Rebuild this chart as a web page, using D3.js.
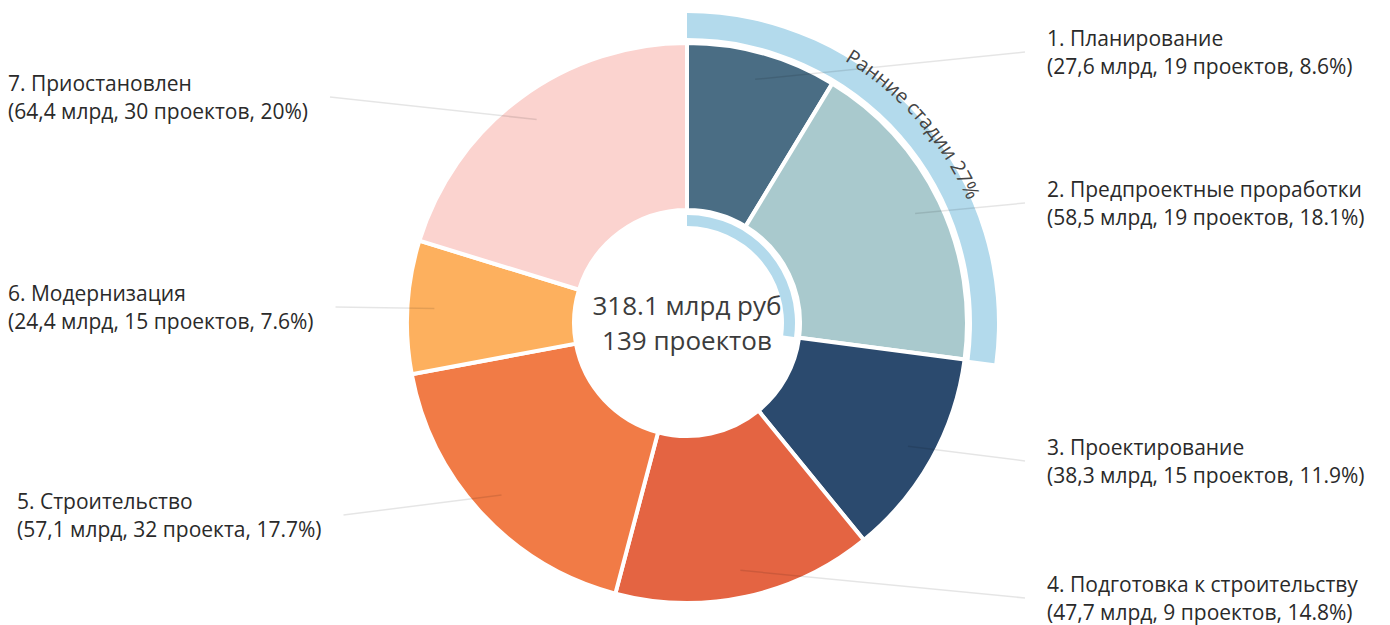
<!DOCTYPE html>
<html>
<head>
<meta charset="utf-8">
<script src="https://cdn.jsdelivr.net/npm/d3@7"></script>
<style>
  body { margin: 0; background: #fff; }
  text { font-family: "Open Sans", "Noto Sans", sans-serif; }
</style>
</head>
<body>
<svg id="chart" width="1390" height="625"></svg>
<script>
// stages of the projects
const stages = [
  "1. Планирование",
  "2. Предпроектные проработки",
  "3. Проектирование",
  "4. Подготовка к строительству",
  "5. Строительство",
  "6. Модернизация",
  "7. Приостановлен"
];
const values = [27.6, 58.5, 38.3, 47.7, 57.1, 24.4, 64.4]; // млрд руб
const valueText = ["27,6", "58,5", "38,3", "47,7", "57,1", "24,4", "64,4"];
const projectText = ["19 проектов", "19 проектов", "15 проектов", "9 проектов", "32 проекта", "15 проектов", "30 проектов"];
const pctText = ["8.6%", "18.1%", "11.9%", "14.8%", "17.7%", "7.6%", "20%"];
const colors = ["#4a6d84", "#a9c9cd", "#2b4a6e", "#e46442", "#f17b46", "#fdb05e", "#fbd3cf"];
const totalText = ["318.1 млрд руб", "139 проектов"];
const groupLabel = "Ранние стадии 27%";
const groupCount = 2; // first two stages form the early group

const cx = 687, cy = 323;
const rInner = 113, rOuter = 280;

// label placement: y of leader end, left edge of text block
const labelY = [52, 203, 461, 598, 515, 307, 97];
const labelX = [1047, 1047, 1047, 1047, 17, 8, 8];
const labelSide = ["r", "r", "r", "r", "l", "l", "l"];

const svg = d3.select("#chart");
const g = svg.append("g").attr("transform", "translate(" + cx + "," + cy + ")");

const pie = d3.pie().sort(null).value((d) => d);
const arcs = pie(values);

const arc = d3.arc().innerRadius(rInner).outerRadius(rOuter);

g.selectAll("path.slice")
  .data(arcs)
  .enter()
  .append("path")
  .attr("class", "slice")
  .attr("d", arc)
  .attr("fill", (d, i) => colors[i])
  .attr("stroke", "#fff")
  .attr("stroke-width", 4);

// early stages bands
const groupEnd = arcs[groupCount - 1].endAngle;
const outerBand = d3.arc().innerRadius(285).outerRadius(310).startAngle(0).endAngle(groupEnd);
const innerBand = d3.arc().innerRadius(97).outerRadius(108).startAngle(0).endAngle(groupEnd);
g.append("path").attr("d", outerBand()).attr("fill", "#b3daec");
g.append("path").attr("d", innerBand()).attr("fill", "#b3daec");

// text along the outer band
const textR = 306;
const textPath = d3.path();
textPath.arc(0, 0, textR, -Math.PI / 2, groupEnd - Math.PI / 2);
g.append("path").attr("id", "bandPath").attr("d", textPath.toString()).attr("fill", "none");
g.append("text")
  .attr("font-size", 20)
  .attr("fill", "#444")
  .append("textPath")
  .attr("href", "#bandPath")
  .attr("startOffset", "50%")
  .attr("text-anchor", "middle")
  .text(groupLabel);

// center text
g.selectAll("text.total")
  .data(totalText)
  .enter()
  .append("text")
  .attr("class", "total")
  .attr("text-anchor", "middle")
  .attr("y", (d, i) => -8 + i * 35)
  .attr("font-size", 26)
  .attr("fill", "#3c3c3c")
  .text((d) => d);

// labels
const labels = svg.append("g");
const lineR = 253;
arcs.forEach((a, i) => {
  const lab = labels.append("g");
  const lines = [stages[i], "(" + valueText[i] + " млрд, " + projectText[i] + ", " + pctText[i] + ")"];
  const t = lab.selectAll("text")
    .data(lines)
    .enter()
    .append("text")
    .attr("x", labelX[i])
    .attr("y", (d, k) => labelY[i] - 6 + k * 28)
    .attr("font-size", 21)
    .attr("fill", "#2a2a2a")
    .text((d) => d);
  let w = 0;
  t.each(function () { w = Math.max(w, this.getComputedTextLength()); });
  const ex = labelSide[i] === "r" ? labelX[i] - 22 : labelX[i] + w + 22;
  const mid = (a.startAngle + a.endAngle) / 2;
  const sx = cx + lineR * Math.sin(mid);
  const sy = cy - lineR * Math.cos(mid);
  svg.append("line")
    .attr("x1", sx).attr("y1", sy)
    .attr("x2", ex).attr("y2", labelY[i])
    .attr("stroke", "#000")
    .attr("stroke-opacity", 0.1)
    .attr("stroke-width", 1.5);
});
</script>
</body>
</html>
